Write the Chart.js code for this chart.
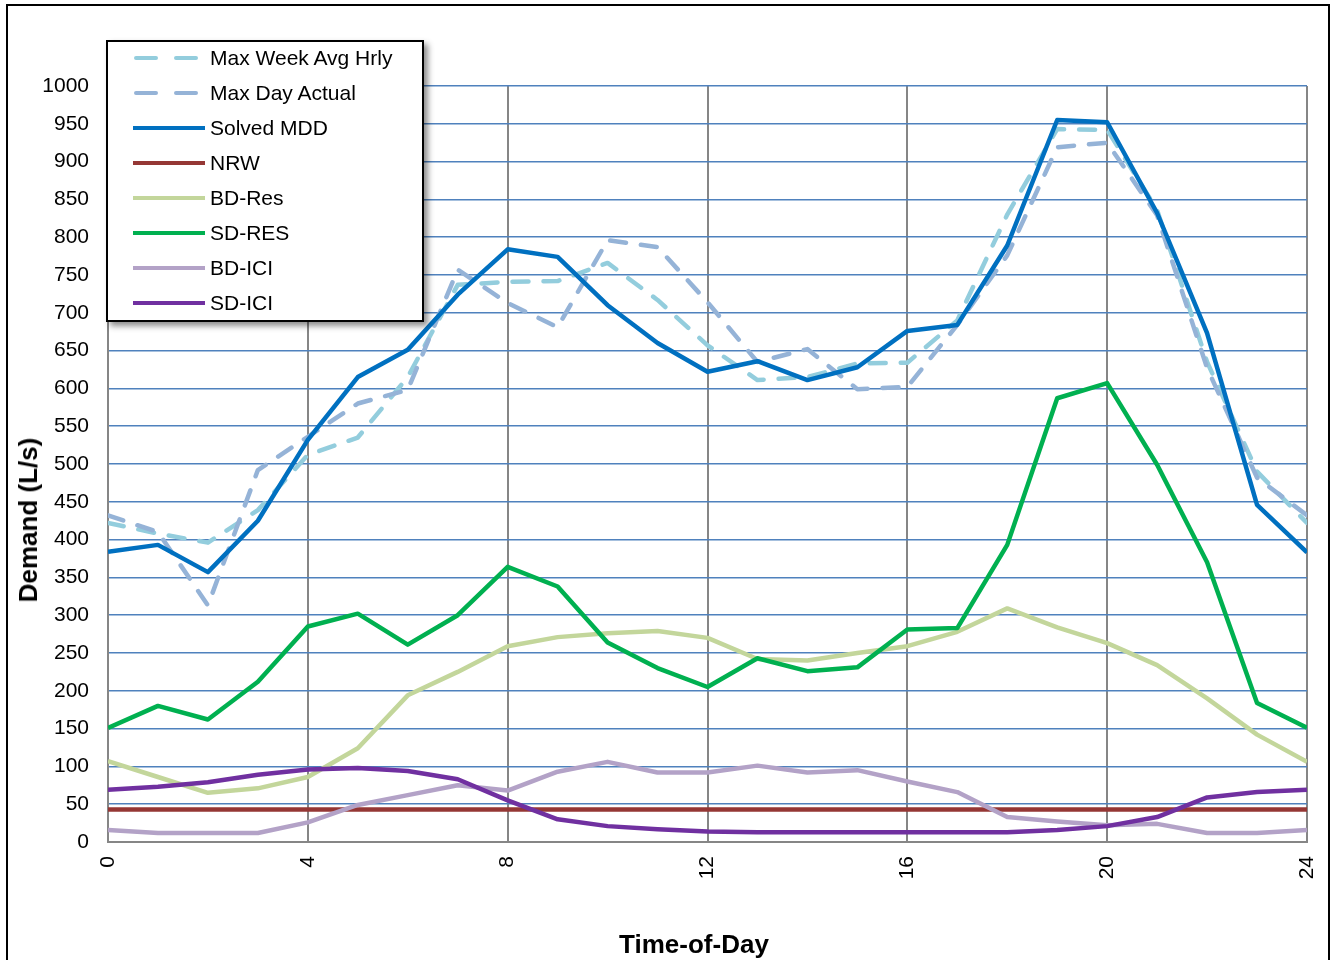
<!DOCTYPE html>
<html>
<head>
<meta charset="utf-8">
<script src="https://cdn.jsdelivr.net/npm/chart.js@4.4.1/dist/chart.umd.min.js"></script>
<style>
    html, body { margin: 0; padding: 0; background: #fff; overflow: hidden; }
    body { width: 1330px; height: 960px; position: relative; font-family: "Liberation Sans", Arial, sans-serif; }
    #frame { position: absolute; left: 6px; top: 4px; width: 1320px; height: 1000px; border: 2px solid #000; }
    #wrap { position: absolute; left: 0; top: 0; width: 1330px; height: 960px; }
    #legend {
        position: absolute; left: 106px; top: 40px; width: 314px; height: 278px;
        border: 2px solid #000; background: #fff;
        box-shadow: 4px 4px 6px rgba(0, 0, 0, 0.45);
    }
    .row { position: absolute; left: 0; height: 30px; display: flex; align-items: center; }
    .row svg { margin-left: 25px; margin-right: 5px; }
    .row span { font-size: 21px; color: #000; white-space: nowrap; }
    .axis-title { position: absolute; font-weight: bold; font-size: 26px; color: #000; line-height: 1; white-space: nowrap; }
    #ytitle { left: 28px; top: 520px; transform: translate(-50%, -50%) rotate(-90deg); }
    #xtitle { left: 694px; top: 944px; transform: translate(-50%, -50%); }
</style>
</head>
<body>
<div id="frame"></div>
<div id="wrap"><canvas id="chart" width="1330" height="960"></canvas></div>
<div id="legend"></div>
<div class="axis-title" id="ytitle">Demand (L/s)</div>
<div class="axis-title" id="xtitle">Time-of-Day</div>
<script>
const hours = [0, 1, 2, 3, 4, 5, 6, 7, 8, 9, 10, 11, 12, 13, 14, 15, 16, 17, 18, 19, 20, 21, 22, 23, 24];
const xTicks = [0, 4, 8, 12, 16, 20, 24];

const maxWeekAvgHrly = [422, 408, 396, 439, 512, 535, 615, 737, 741, 742, 766, 717, 657, 611, 615, 633, 634, 690, 830, 943, 942, 836, 635, 490, 422];
const maxDayActual = [432, 410, 313, 492, 536, 580, 598, 757, 713, 681, 796, 787, 714, 635, 652, 599, 602, 684, 776, 919, 925, 829, 627, 482, 432];
const solvedMdd = [384, 393, 357, 425, 532, 615, 651, 724, 784, 774, 710, 660, 622, 636, 611, 628, 676, 684, 789, 955, 952, 832, 673, 446, 383];
const nrw = [43, 43, 43, 43, 43, 43, 43, 43, 43, 43, 43, 43, 43, 43, 43, 43, 43, 43, 43, 43, 43, 43, 43, 43, 43];
const bdRes = [107, 86, 65, 71, 86, 124, 194, 225, 259, 271, 276, 279, 270, 242, 240, 250, 259, 278, 309, 284, 263, 234, 190, 142, 106];
const sdRes = [151, 180, 162, 212, 285, 302, 261, 300, 364, 338, 264, 230, 205, 243, 226, 231, 281, 283, 393, 587, 607, 499, 370, 184, 151];
const bdIci = [16, 12, 12, 12, 26, 49, 62, 75, 68, 93, 106, 92, 92, 101, 92, 95, 80, 66, 33, 27, 22, 24, 12, 12, 16];
const sdIci = [69, 73, 79, 89, 96, 98, 94, 83, 55, 30, 21, 17, 14, 13, 13, 13, 13, 13, 13, 16, 21, 33, 59, 66, 69];

const seriesNames = ['Max Week Avg Hrly', 'Max Day Actual', 'Solved MDD', 'NRW', 'BD-Res', 'SD-RES', 'BD-ICI', 'SD-ICI'];
const seriesValues = [maxWeekAvgHrly, maxDayActual, solvedMdd, nrw, bdRes, sdRes, bdIci, sdIci];
const seriesColors = ['#93cddd', '#95b3d7', '#0070c0', '#953735', '#c3d69b', '#00b050', '#b3a2c7', '#7030a0'];
const seriesDashed = [true, true, false, false, false, false, false, false];

const gridBlue = '#4f81bd';
const axisGray = '#868686';

function toPoints(values) {
    return values.map((v, i) => ({ x: hours[i], y: v }));
}

const datasets = seriesNames.map((name, i) => ({
    label: name,
    data: toPoints(seriesValues[i]),
    borderColor: seriesColors[i],
    backgroundColor: seriesColors[i],
    borderWidth: 4.5,
    borderDash: seriesDashed[i] ? [16, 15] : [],
    borderCapStyle: seriesDashed[i] ? 'round' : 'butt',
    borderJoinStyle: 'round',
    pointRadius: 0,
    tension: 0,
    fill: false,
    order: seriesNames.length - i
}));

const tickFont = { family: '"Liberation Sans", Arial, sans-serif', size: 21 };

const chart = new Chart(document.getElementById('chart'), {
    type: 'line',
    data: { datasets: datasets },
    options: {
        responsive: false,
        animation: false,
        devicePixelRatio: 1,
        layout: { padding: { top: 86, right: 23, left: 0, bottom: 0 } },
        plugins: {
            legend: { display: false },
            tooltip: { enabled: false }
        },
        scales: {
            x: {
                type: 'linear',
                min: 0,
                max: 24,
                afterBuildTicks: (scale) => {
                    scale.ticks = xTicks.map(v => ({ value: v }));
                },
                afterFit: (scale) => {
                    scale.height = 118;
                    scale.paddingLeft = 0;
                    scale.paddingRight = 0;
                },
                ticks: {
                    autoSkip: false,
                    minRotation: 90,
                    maxRotation: 90,
                    padding: 14,
                    color: '#000',
                    font: tickFont
                },
                grid: { color: axisGray, lineWidth: 2, drawTicks: false },
                border: { color: axisGray, width: 2 }
            },
            y: {
                min: 0,
                max: 1000,
                afterFit: (scale) => {
                    scale.width = 108;
                    scale.paddingTop = 0;
                    scale.paddingBottom = 0;
                },
                ticks: {
                    stepSize: 50,
                    padding: 19,
                    color: '#000',
                    font: tickFont,
                    callback: (v) => String(v)
                },
                grid: {
                    color: (ctx) => ctx.tick && ctx.tick.value === 0 ? axisGray : gridBlue,
                    lineWidth: 1.5,
                    drawTicks: false
                },
                border: { color: axisGray, width: 2 }
            }
        }
    }
});

// legend box drawn over the plot, same order as the series arrays
function buildLegend() {
    const box = document.getElementById('legend');
    chart.data.datasets.forEach((ds, i) => {
        const row = document.createElement('div');
        row.className = 'row';
        row.style.top = (58 + 35 * i - 42 - 15) + 'px';
        const dash = ds.borderDash.length ? ' stroke-dasharray="20 20" stroke-linecap="round"' : '';
        row.innerHTML =
            '<svg width="72" height="8"><line x1="' + (dash ? 3 : 0) + '" y1="4" x2="' + (dash ? 69 : 72) + '" y2="4" stroke="' +
            ds.borderColor + '" stroke-width="4"' + dash + '/></svg>' +
            '<span>' + ds.label + '</span>';
        box.appendChild(row);
    });
}
buildLegend();
</script>
</body>
</html>
